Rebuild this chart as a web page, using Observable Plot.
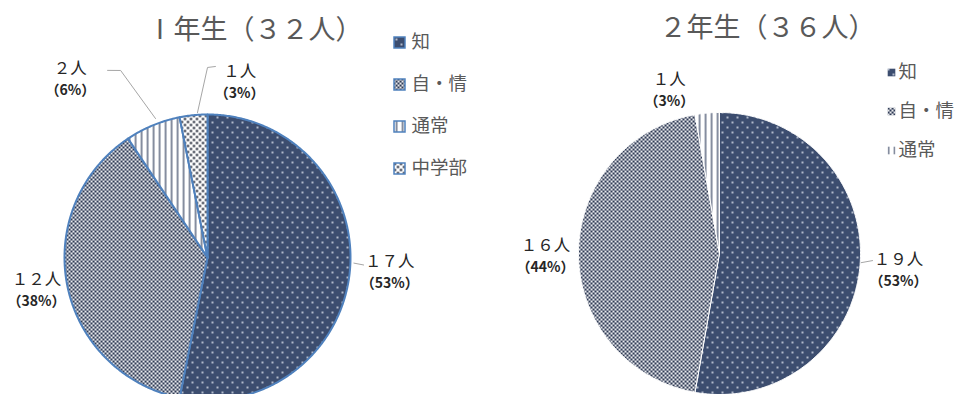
<!DOCTYPE html>
<html><head><meta charset="utf-8">
<script src="https://cdn.jsdelivr.net/npm/d3@7"></script>
<script src="https://cdn.jsdelivr.net/npm/@observablehq/plot@0.6"></script>
<style>
html,body{margin:0;padding:0;background:#fff;}
#chart{width:970px;height:394px;overflow:hidden;}
</style></head><body><div id="chart"></div>
<script>
// ---------- data ----------
const title1 = "Ⅰ年生（３２人）";
const categories1 = ["知", "自・情", "通常", "中学部"];
const counts1 = [17, 12, 2, 1];

const title2 = "２年生（３６人）";
const categories2 = ["知", "自・情", "通常"];
const counts2 = [19, 16, 1];

const allCategories = ["知", "自・情", "通常", "中学部"];
const patternIds = ["url(#pChi)", "url(#pJijo)", "url(#pTsujo)", "url(#pChu)"];

// ---------- layout (positions only) ----------
const W = 970, H = 394;
const FONT = "'Noto Sans CJK JP', 'Noto Sans', sans-serif";
const pieLayouts = [
  {cx: 207, cy: 257, r: 143, lcx: 208, lcy: 255, lr: 140, stroke: "#4f81bd", strokeWidth: 2,
   titleX: 254, titleY: 30,
   legX: 399, legTX: 411, legY0: 42, legDY: 42, legR: 6.2, legStroke: "#4f81bd",
   labelPolar: [[95.4, 1.30], [258.5, 1.254], [321.9, 1.60], [10.2, 1.256]],
   leaders: [
     [[93, 1.04], [93.5, 1.11]],
     null,
     [[338.85, 1.049], [334.6, 1.463], [331.4, 1.506]],
     [[355.6, 1.024], [359.7, 1.343], [2.1, 1.351]]
   ]},
  {cx: 719, cy: 253, r: 141, lcx: 719, lcy: 251, lr: 138, stroke: "#ffffff", strokeWidth: 1,
   titleX: 767, titleY: 28,
   legX: 891, legTX: 898, legY0: 72, legDY: 39, legR: 4.3, legStroke: "none",
   labelPolar: [[96.1, 1.304], [268.4, 1.261], [342.7, 1.222]],
   leaders: [
     [[94.5, 1.03], [93.4, 1.111]],
     null,
     null
   ]}
];

const toFullWidth = s => String(s).replace(/[0-9]/g, c => String.fromCharCode(c.charCodeAt(0) + 0xFEE0));

function polar(P, deg, f) {
  const a = deg * Math.PI / 180;
  return {x: P.lcx + P.lr * f * Math.sin(a), y: P.lcy - P.lr * f * Math.cos(a)};
}

const sliceRows = [], leaderRows = [], countRows = [], pctRows = [], legendRows = [], titleRows = [];
[[categories1, counts1, title1], [categories2, counts2, title2]].forEach(([cats, counts, title], p) => {
  const P = pieLayouts[p];
  const total = d3.sum(counts);
  const arcs = d3.pie().sort(null).value(d => d)(counts);
  arcs.forEach((a, i) => {
    const id = p + "-" + i;
    sliceRows.push({pie: p, id, cat: cats[i], x: P.cx, y: P.cy});
    const n = Math.max(2, Math.ceil((a.endAngle - a.startAngle) / 0.01));
    for (let k = 0; k <= n; k++) {
      const t = a.startAngle + (a.endAngle - a.startAngle) * k / n;
      sliceRows.push({pie: p, id, cat: cats[i], x: P.cx + P.r * Math.sin(t), y: P.cy - P.r * Math.cos(t)});
    }
    sliceRows.push({pie: p, id, cat: cats[i], x: P.cx, y: P.cy});
    // labels
    const [deg, f] = P.labelPolar[i];
    const c = polar(P, deg, f);
    countRows.push({x: c.x, y: c.y - 11, text: toFullWidth(counts[i]) + "人"});
    pctRows.push({x: c.x, y: c.y + 11, text: "（" + Math.round(counts[i] / total * 100) + "%）"});
    const L = P.leaders[i];
    if (L) L.forEach(([d, ff]) => { const q = polar(P, d, ff); leaderRows.push({id, x: q.x, y: q.y}); });
    // legend
    legendRows.push({pie: p, cat: cats[i], x: P.legX, tx: P.legTX, y: P.legY0 + i * P.legDY});
  });
  titleRows.push({x: P.titleX, y: P.titleY, text: title});
});

const plot = Plot.plot({
  width: W, height: H,
  marginTop: 0, marginRight: 0, marginBottom: 0, marginLeft: 0,
  x: {domain: [0, W], range: [0, W], axis: null},
  y: {domain: [0, H], range: [0, H], axis: null},
  color: {type: "ordinal", domain: allCategories, range: patternIds},
  style: {fontFamily: FONT, background: "#fff"},
  marks: [
    Plot.line(sliceRows.filter(d => d.pie === 0), {x: "x", y: "y", z: "id", fill: "cat", stroke: pieLayouts[0].stroke, strokeWidth: pieLayouts[0].strokeWidth, strokeLinejoin: "round"}),
    Plot.line(sliceRows.filter(d => d.pie === 1), {x: "x", y: "y", z: "id", fill: "cat", stroke: pieLayouts[1].stroke, strokeWidth: pieLayouts[1].strokeWidth, strokeLinejoin: "round"}),
    Plot.line(leaderRows, {x: "x", y: "y", z: "id", stroke: "#a6a6a6", strokeWidth: 1}),
    Plot.text(titleRows, {x: "x", y: "y", text: "text", fontSize: 27, fill: "#595959", fontFamily: FONT}),
    Plot.text(countRows, {x: "x", y: "y", text: "text", fontSize: 16.5, fill: "#262626", fontFamily: FONT}),
    Plot.text(pctRows, {x: "x", y: "y", text: "text", fontSize: 14, fontWeight: "bold", fill: "#262626", fontFamily: FONT}),
    Plot.dot(legendRows.filter(d => d.pie === 0), {x: "x", y: "y", symbol: "square", r: pieLayouts[0].legR, fill: "cat", stroke: pieLayouts[0].legStroke, strokeWidth: 1.5}),
    Plot.dot(legendRows.filter(d => d.pie === 1), {x: "x", y: "y", symbol: "square", r: pieLayouts[1].legR, fill: "cat", stroke: "none"}),
    Plot.text(legendRows, {x: "tx", y: "y", text: "cat", textAnchor: "start", fontSize: 18.5, fill: "#595959", fontFamily: FONT})
  ]
});

const defs = `
<pattern id="pChi" patternUnits="userSpaceOnUse" width="10" height="10">
  <rect width="10" height="10" fill="#3c4d6f"/>
  <circle cx="2" cy="2" r="0.9" fill="#e8edf5"/>
  <circle cx="7" cy="7" r="0.9" fill="#e8edf5"/>
</pattern>
<pattern id="pJijo" patternUnits="userSpaceOnUse" width="4" height="4">
  <rect width="4" height="4" fill="#ffffff"/>
  <rect x="0" y="0" width="2.2" height="2.2" fill="#2f3b55"/>
  <rect x="2" y="2" width="2.2" height="2.2" fill="#2f3b55"/>
</pattern>
<pattern id="pTsujo" patternUnits="userSpaceOnUse" width="6" height="6">
  <rect width="6" height="6" fill="#ffffff"/>
  <rect x="2.5" y="0" width="1.2" height="6" fill="#34425f"/>
</pattern>
<pattern id="pChu" patternUnits="userSpaceOnUse" width="6" height="6">
  <rect width="6" height="6" fill="#ffffff"/>
  <circle cx="1.5" cy="1.5" r="1.2" fill="#1f2536"/>
  <circle cx="4.5" cy="4.5" r="1.2" fill="#1f2536"/>
</pattern>`;
d3.select(plot).insert("defs", ":first-child").html(defs);
document.getElementById("chart").appendChild(plot);
</script>
</body></html>
